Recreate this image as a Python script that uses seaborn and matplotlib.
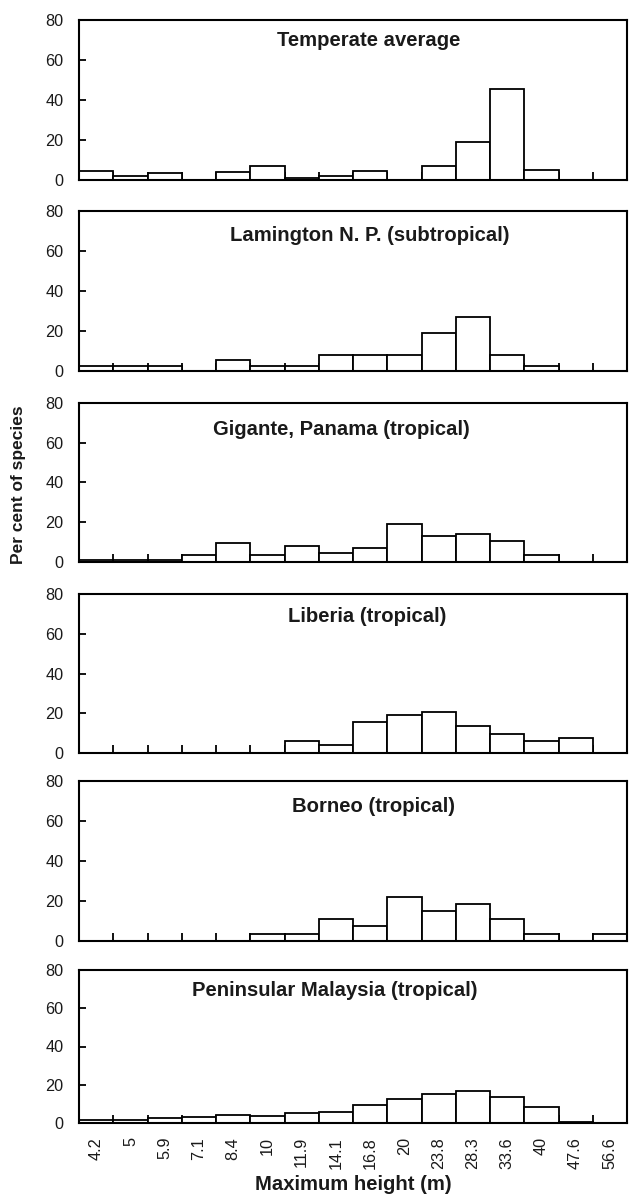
import matplotlib
matplotlib.use("Agg")
import numpy as np
import pandas as pd
import matplotlib.pyplot as plt
import seaborn as sns
from matplotlib.ticker import FixedLocator

# Maximum-height classes (m)
height_classes = ["4.2", "5", "5.9", "7.1", "8.4", "10", "11.9", "14.1",
                  "16.8", "20", "23.8", "28.3", "33.6", "40", "47.6", "56.6"]

# Per cent of species in each height class
temperate = [4.5, 1.8, 3.7, 0, 4.2, 7.0, 1.0, 2.0, 4.3, 0, 7.0, 18.8, 45.3, 5.2, 0, 0]
lamington = [2.7, 2.7, 2.7, 0, 5.4, 2.7, 2.7, 8.1, 8.1, 8.1, 18.9, 27.0, 8.1, 2.7, 0, 0]
gigante = [1.0, 1.0, 1.0, 3.4, 9.5, 3.4, 8.3, 4.7, 6.9, 19.0, 13.0, 14.2, 10.5, 3.4, 0, 0]
liberia = [0, 0, 0, 0, 0, 0, 5.8, 4.1, 15.4, 19.2, 20.8, 13.6, 9.7, 5.8, 7.6, 0]
borneo = [0, 0, 0, 0, 0, 3.7, 3.7, 11.1, 7.4, 22.2, 14.8, 18.5, 11.1, 3.7, 0, 3.7]
malaysia = [1.4, 1.7, 2.6, 3.3, 4.0, 3.8, 5.4, 5.9, 9.6, 12.3, 15.1, 16.7, 13.7, 8.3, 0.7, 0]

site_names = ["Temperate average", "Lamington N. P. (subtropical)",
              "Gigante, Panama (tropical)", "Liberia (tropical)",
              "Borneo (tropical)", "Peninsular Malaysia (tropical)"]
site_values = [temperate, lamington, gigante, liberia, borneo, malaysia]

sns.set_style("ticks")
plt.rcParams["font.family"] = ["Liberation Sans", "DejaVu Sans"]
ink = "#1a1a1a"

W, H = 629, 1197
fig = plt.figure(figsize=(W / 100, H / 100), dpi=100)

# panel frames in pixels (top, bottom)
frames = [(20, 180), (210.7, 371), (403, 562), (594, 753), (781, 941), (970, 1123)]
# panel title anchor (category position, value)
title_anchor = [(7.97, 69.5), (7.98, 67.4), (7.16, 66.9), (7.90, 68.6), (8.10, 67.2), (6.97, 69.1)]
left_px, right_px = 79, 627

for i, (name, vals) in enumerate(zip(site_names, site_values)):
    top, bot = frames[i]
    ax = fig.add_axes([left_px / W, 1 - bot / H, (right_px - left_px) / W, (bot - top) / H])
    df = pd.DataFrame({"height": height_classes, "pct": vals})
    sns.barplot(data=df, x="height", y="pct", order=height_classes, ax=ax,
                width=1.0, color="white", saturation=1, edgecolor="black",
                linewidth=1.3, errorbar=None)
    ax.set_xlim(-0.5, len(height_classes) - 0.5)
    ax.set_ylim(0, 80)
    ax.set_yticks([0, 20, 40, 60, 80])
    ax.set_xlabel("")
    ax.set_ylabel("")
    ax.xaxis.set_minor_locator(FixedLocator(np.arange(0.5, len(height_classes) - 1, 1.0)))
    ax.tick_params(axis="x", which="major", length=0, pad=10, labelsize=11.7,
                   labelrotation=90, labelcolor=ink)
    ax.tick_params(axis="x", which="minor", direction="in", length=6, width=1.3, color="black")
    ax.tick_params(axis="y", direction="in", length=5, width=1.3, pad=11,
                   labelsize=11.7, labelcolor=ink, color="black")
    if i < len(site_names) - 1:
        ax.tick_params(axis="x", which="major", labelbottom=False)
    for side in ["left", "right", "top", "bottom"]:
        ax.spines[side].set_visible(True)
        ax.spines[side].set_color("black")
        ax.spines[side].set_linewidth(1.5)
    tx, ty = title_anchor[i]
    ax.text(tx, ty, name, ha="center", va="center", fontsize=14.6,
            fontweight="bold", color=ink)

fig.text(19 / W, 1 - 485 / H, "Per cent of species", rotation=90, ha="center",
         va="center", fontsize=12.5, fontweight="bold", color=ink)
fig.text(353 / W, 1 - 1185 / H, "Maximum height (m)", ha="center", va="center",
         fontsize=14.6, fontweight="bold", color=ink)

fig.savefig("out.png", dpi=100, facecolor="white")
